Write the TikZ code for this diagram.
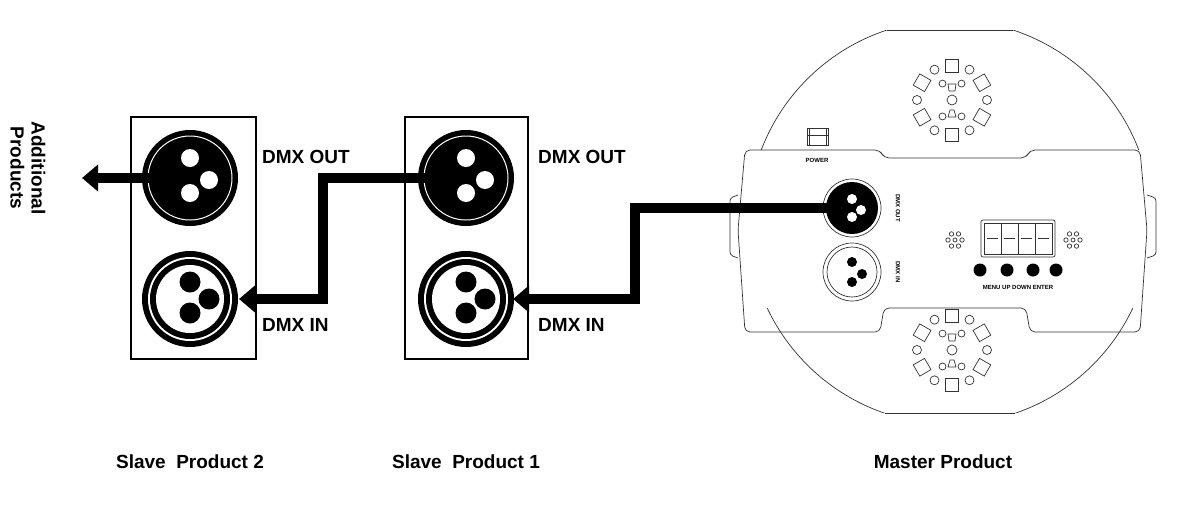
\documentclass[tikz,border=0pt]{standalone}
\usepackage{fontspec}
\setmainfont{Liberation Sans}
\usetikzlibrary{arrows.meta}
\begin{document}
\begin{tikzpicture}[x=1pt,y=-1pt,
  lbl/.style={font=\bfseries\fontsize{19}{20}\selectfont,anchor=west,inner sep=0},
  captxt/.style={font=\bfseries\fontsize{19}{20}\selectfont,inner sep=0},
  tiny/.style={font=\bfseries\fontsize{6}{7}\selectfont,inner sep=0},
  cable/.style={line width=10pt,-{Triangle[length=16pt,width=26pt]}},
  mline/.style={line width=0.7pt,draw=black!80}]
\useasboundingbox (0,0) rectangle (1180,504);
\newcommand{\outconn}[3]{%
  \fill (#1,#2) circle (48);
  \draw[white,line width=1pt] (#1,#2) circle (42);
  \fill[white] (#1,#2-20) circle (9) (#1,#2+15) circle (9) (#1+19,#2+2) circle (9);
  \coordinate (#3) at (#1,#2);}
\newcommand{\inconn}[3]{%
  \fill (#1,#2) circle (48);
  \fill[white] (#1,#2) circle (42);
  \fill (#1,#2) circle (40);
  \fill[white] (#1,#2) circle (34);
  \fill (#1,#2-17) circle (10.5) (#1,#2+14) circle (10.5) (#1+19,#2) circle (10.5);
  \coordinate (#3) at (#1,#2);}
% slave boxes
\draw[line width=2pt] (131,117) rectangle (256,359);
\draw[line width=2pt] (405,117) rectangle (528,359);
\outconn{190}{178}{s2out}
\inconn{190}{299}{s2in}
\outconn{466}{178}{s1out}
\inconn{466}{299}{s1in}
\node[lbl] (t1) at (262,157) {DMX OUT};
\node[lbl] (t2) at (262,325) {DMX IN};
\node[lbl] (t3) at (538,157) {DMX OUT};
\node[lbl] (t4) at (538,325) {DMX IN};
\coordinate (addl) at (82,178);
\coordinate (s2inedge) at (239,299);
\coordinate (s1inedge) at (513,299);
% master
\begin{scope}[mline]
\begin{scope}
\clip (700,30) rectangle (1180,150) (700,308) rectangle (1180,413);
\draw (950,222) circle (202);
\end{scope}
\draw (887,30) -- (1013,30) (885,413) -- (1015,413);
\draw[rounded corners=5] (745,150) -- (880,150) -- (884,158) -- (1026,158) -- (1030,150) -- (1140,150) -- (1147,230) -- (1140,332) -- (1030,332) -- (1026,308) -- (884,308) -- (880,332) -- (745,332) -- (738,230) -- cycle;
\draw[rounded corners=3] (738,195) -- (730,198) -- (730,255) -- (738,258);
\draw[rounded corners=3] (1147,195) -- (1156,198) -- (1156,255) -- (1147,258);
\draw (807,128) rectangle (828,145) (807,135) -- (828,135) (809,128) -- (809,145) (826,128)--(826,145);
\draw (852,272) circle (29) (852,272) circle (25);
\draw (852,208) circle (29);
\draw[rounded corners=2] (981,220) rectangle (1055,257);
\draw (984,223) rectangle (1052,254);
\foreach \i in {1,2,3} \draw (984+\i*17,223) -- (984+\i*17,254);
\foreach \i in {0,1,2,3} \draw (987+\i*17,238) -- (998+\i*17,238);
\foreach \cx/\cy in {952/100,952/350}{
  \draw (\cx,\cy) circle (5);
  \draw (\cx-4,\cy-16) -- (\cx+4,\cy-16) -- (\cx+3,\cy-9) -- (\cx-3,\cy-9) -- cycle;
  \draw (\cx-4,\cy+17) -- (\cx+4,\cy+17) -- (\cx+2,\cy+10) -- (\cx-2,\cy+10) -- cycle;
  \foreach \a in {90,150,210,270,330,30}
    \draw[rotate around={\a:(\cx,\cy)}] (\cx+28,\cy-6.5) rectangle (\cx+41,\cy+6.5);
  \foreach \a in {60,120,240,300,0,180}
    \draw (\cx,\cy) ++(\a:35) circle (4.5);
  \foreach \a in {60,120,240,300}
    \draw (\cx,\cy) ++(\a:19) circle (3.5);
}
\foreach \cx in {955,1073}{
  \foreach \a in {0,60,...,300} \draw (\cx,240) ++(\a:7) circle (2.2);
  \draw (\cx,240) circle (2);}
\end{scope}
\fill (852,208) circle (26);
\fill[white] (852,199) circle (5) (852,217) circle (5) (861,210) circle (5);
\fill (852,262) circle (5) (852,282) circle (5) (862,274) circle (5);
\coordinate (mout) at (840,208);
\foreach \x in {980,1007,1033,1056} \fill (\x,270) circle (6.5);
\node[tiny] (pw) at (817,160) {POWER};
\node[tiny,rotate=-90] (mo) at (898,208) {DMX OUT};
\node[tiny,rotate=-90] (mi) at (898,272) {DMX IN};
\node[tiny] (btn) at (1018,287) {MENU UP DOWN ENTER};
% cables
\draw[cable] (s2out) -- (addl);
\draw[cable] (s1out) -- (323,178) -- (323,299) -- (s2inedge);
\draw[cable] (mout) -- (635,208) -- (635,299) -- (s1inedge);
\node[rotate=-90,align=center,inner sep=0,font=\bfseries\fontsize{19}{21}\selectfont] (add) at (28,168) {Additional\\Products};
\node[captxt] (c1) at (190,462) {Slave\ \ Product 2};
\node[captxt] (c2) at (466,462) {Slave\ \ Product 1};
\node[captxt] (c3) at (943,462) {Master Product};
\end{tikzpicture}
\end{document}
